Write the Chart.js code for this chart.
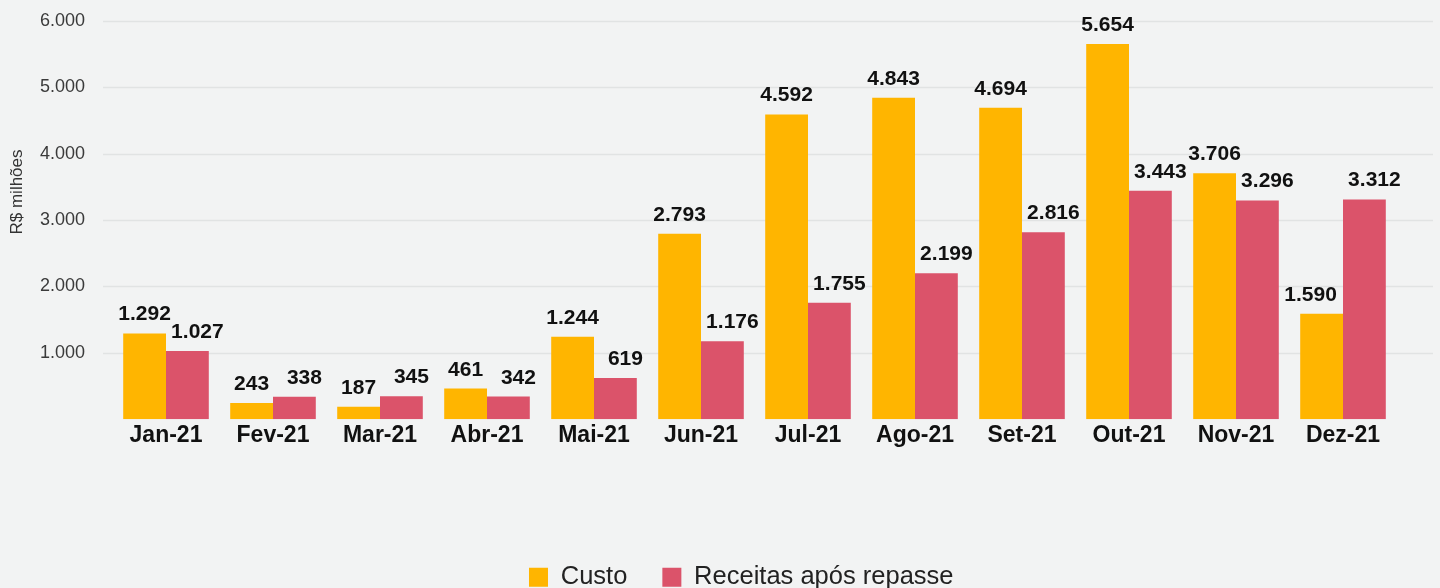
<!DOCTYPE html>
<html>
<head>
<meta charset="utf-8">
<script src="https://cdn.jsdelivr.net/npm/chart.js@4.4.1/dist/chart.umd.min.js"></script>
<style>
  body { margin: 0; overflow: hidden; background: #F2F3F3; }
  #wrap { position: relative; width: 1440px; height: 600px; }
</style>
</head>
<body>
<div id="wrap"><canvas id="myChart"></canvas></div>
<script>
// dados
let meses = ['Jan-21', 'Fev-21', 'Mar-21', 'Abr-21', 'Mai-21', 'Jun-21', 'Jul-21', 'Ago-21', 'Set-21', 'Out-21', 'Nov-21', 'Dez-21'];
let custo = [1292, 243, 187, 461, 1244, 2793, 4592, 4843, 4694, 5654, 3706, 1590];
let receitas = [1027, 338, 345, 342, 619, 1176, 1755, 2199, 2816, 3443, 3296, 3312];
let ticksY = [1000, 2000, 3000, 4000, 5000, 6000];
let tituloY = 'R$ milhões';

function fmt(v) {
    return String(v).replace(/\B(?=(\d{3})+(?!\d))/g, '.');
}

const fonte = '"Liberation Sans", Arial, Helvetica, sans-serif';

// linhas de grade, rotulos das barras e titulo do eixo
const extras = {
    id: 'extras',
    afterLayout(chart) {
        // legenda um pouco deslocada para a direita, como no original
        chart.legend.left += 86;
    },
    beforeDatasetsDraw(chart) {
        const c = chart.ctx;
        const y = chart.scales.y;
        c.save();
        c.strokeStyle = '#E1E3E3';
        c.lineWidth = 1.5;
        ticksY.forEach(t => {
            const py = Math.round(y.getPixelForValue(t)) + 0.5;
            c.beginPath();
            c.moveTo(103, py);
            c.lineTo(1433, py);
            c.stroke();
        });
        c.restore();
    },
    afterDatasetsDraw(chart) {
        const c = chart.ctx;
        c.save();
        c.font = 'bold 21px ' + fonte;
        c.fillStyle = '#111';
        c.textAlign = 'center';
        c.textBaseline = 'alphabetic';
        chart.data.datasets.forEach((ds, d) => {
            const meta = chart.getDatasetMeta(d);
            meta.data.forEach((bar, i) => {
                let dx = d === 1 ? 10 : 0;
                if (d === 0 && i === meses.length - 1) dx = -11;
                c.fillText(fmt(ds.data[i]), bar.x + dx, bar.y - 13);
            });
        });
        c.restore();

        c.save();
        c.font = '17px ' + fonte;
        c.fillStyle = '#333';
        c.textAlign = 'center';
        c.textBaseline = 'middle';
        c.translate(17, 192);
        c.rotate(-Math.PI / 2);
        c.fillText(tituloY, 0, 0);
        c.restore();
    }
};

var ctx = document.getElementById('myChart').getContext('2d');
var myBarChart = new Chart(ctx, {
    type: 'bar',
    data: {
        labels: meses,
        datasets: [
            {
                label: 'Custo',
                data: custo,
                backgroundColor: '#FFB500',
                borderWidth: 0
            },
            {
                label: 'Receitas após repasse',
                data: receitas,
                backgroundColor: '#DB536A',
                borderWidth: 0
            }
        ]
    },
    options: {
        responsive: true,
        maintainAspectRatio: false,
        animation: false,
        datasets: {
            bar: {
                categoryPercentage: 0.8,
                barPercentage: 1.0
            }
        },
        layout: {
            padding: { left: 0, right: 43.5, top: 21, bottom: 0 }
        },
        scales: {
            x: {
                grid: { display: false },
                border: { display: false },
                ticks: {
                    color: '#111',
                    padding: -5,
                    font: { family: fonte, size: 23, weight: 'bold' }
                },
                afterFit(scale) { scale.height = 110.3; }
            },
            y: {
                min: 0,
                max: 6000,
                grid: { display: false },
                border: { display: false },
                ticks: {
                    stepSize: 1000,
                    color: '#3a3a3a',
                    padding: 19.5,
                    font: { family: fonte, size: 18 },
                    callback: v => v === 0 ? '' : fmt(v)
                },
                afterFit(scale) {
                    scale.width = 112.5;
                    scale.paddingTop = 0;
                    scale.paddingBottom = 0;
                }
            }
        },
        plugins: {
            legend: {
                position: 'bottom',
                labels: {
                    color: '#222',
                    boxWidth: 19,
                    boxHeight: 19,
                    padding: 35,
                    font: { family: fonte, size: 25.5 }
                }
            },
            tooltip: { enabled: false }
        }
    },
    plugins: [extras]
});
</script>
</body>
</html>
